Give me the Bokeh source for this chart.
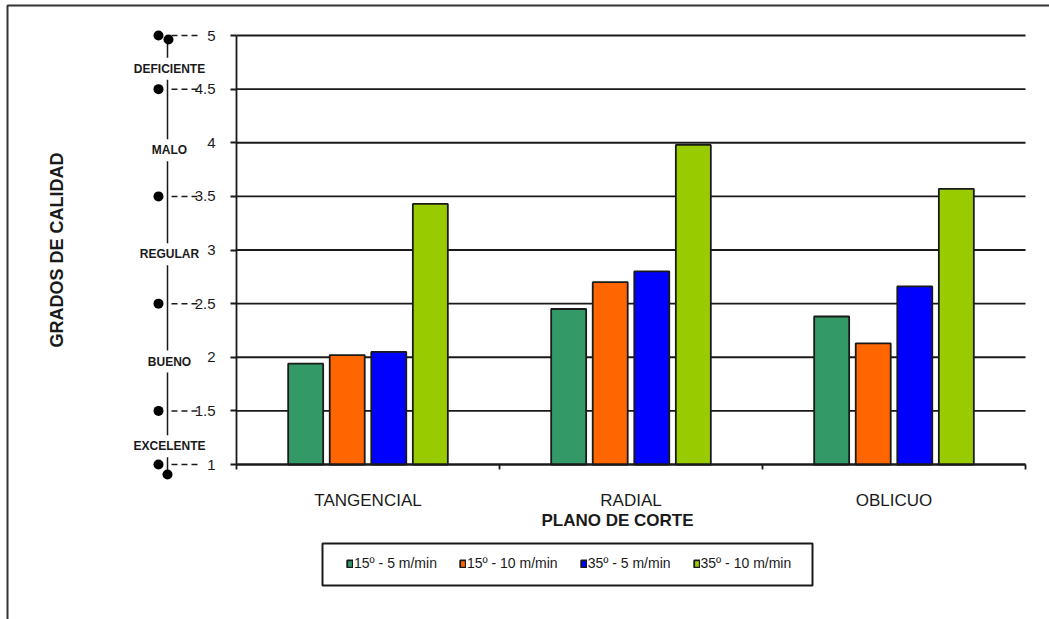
from math import pi

from bokeh.plotting import figure
from bokeh.models import (Range1d, FixedTicker, NumeralTickFormatter, Label,
                          BoxAnnotation, Legend, LegendItem, ColumnDataSource)
from bokeh.transform import dodge
from bokeh.embed import file_html
from bokeh.resources import INLINE

# --- data -------------------------------------------------------------------
cortes = ["TANGENCIAL", "RADIAL", "OBLICUO"]
series_names = ["15º - 5 m/min", "15º - 10 m/min", "35º - 5 m/min", "35º - 10 m/min"]
s15_5 = [1.94, 2.45, 2.38]
s15_10 = [2.02, 2.70, 2.13]
s35_5 = [2.05, 2.80, 2.66]
s35_10 = [3.43, 3.98, 3.57]
series_values = [s15_5, s15_10, s35_5, s35_10]
colors = ["#339966", "#FF6600", "#0000FF", "#99CC00"]

y_ticks = [1, 1.5, 2, 2.5, 3, 3.5, 4, 4.5, 5]
scale_marks = [5, 4.5, 3.5, 2.5, 1.5, 1]
quality_names = ["DEFICIENTE", "MALO", "REGULAR", "BUENO", "EXCELENTE"]
quality_pos = [4.69, 3.93, 2.96, 1.96, 1.17]

# --- geometry ---------------------------------------------------------------
# The frame fills the whole canvas; the bar area [0, NX] x [Y0, Y1] sits inside
# it, with the axes pinned to its edges.
W, H = 1049, 619
AREA_L, AREA_T, AREA_R, AREA_B = 236, 35, 1025, 464   # bar area on the canvas
Y0, Y1 = 1, 5
NX = len(cortes)
PX_X = (AREA_R - AREA_L) / NX       # pixels per x unit
PX_Y = (AREA_B - AREA_T) / (Y1 - Y0)  # pixels per y unit


def xpx(cx):
    """canvas pixel column -> x data coordinate"""
    return (cx - AREA_L) / PX_X


def ypx(cy):
    """canvas pixel row -> y data coordinate"""
    return Y1 - (cy - AREA_T) / PX_Y


FONT = "Liberation Sans"
INK = "#1a1a1a"
LW = 1.8

p = figure(width=W, height=H,
           x_range=Range1d(xpx(0), xpx(W)), y_range=Range1d(ypx(H), ypx(0)),
           output_backend="svg", toolbar_location=None,
           min_border_left=0, min_border_right=0, min_border_top=0, min_border_bottom=0)
p.outline_line_color = None
p.background_fill_color = "white"
p.border_fill_color = "white"
p.xgrid.grid_line_color = None
p.ygrid.grid_line_color = None

# --- horizontal grid lines across the bar area -----------------------------------
p.segment(x0=[0] * len(y_ticks), x1=[NX] * len(y_ticks), y0=y_ticks, y1=y_ticks,
          line_color=INK, line_width=LW)

# --- bars -------------------------------------------------------------------
centers = [i + 0.5 for i in range(NX)]
step, bar_w = 0.158, 0.133
offsets = [(j - 1.5) * step for j in range(len(series_values))]
legend_items = []
for vals, name, col, off in zip(series_values, series_names, colors, offsets):
    src = ColumnDataSource(dict(x=centers, top=vals, corte=cortes))
    r = p.vbar(x=dodge("x", off), top="top", bottom=Y0, width=bar_w, source=src,
               fill_color=col, line_color=INK, line_width=LW)
    legend_items.append(LegendItem(label=name, renderers=[r]))

# --- axes pinned to the bar area ------------------------------------------------
ya = p.yaxis[0]
ya.fixed_location = 0
ya.bounds = (Y0, Y1)
ya.ticker = FixedTicker(ticks=y_ticks)
ya.formatter = NumeralTickFormatter(format="0.[0]")
ya.major_label_text_font = FONT
ya.major_label_text_font_size = "15px"
ya.major_label_text_color = INK
ya.major_tick_out = 6
ya.major_tick_in = 0
ya.minor_tick_line_color = None
ya.major_label_standoff = 15
ya.axis_line_width = LW
ya.axis_line_color = INK
ya.major_tick_line_color = INK
ya.major_tick_line_width = LW

xa = p.xaxis[0]
xa.fixed_location = Y0
xa.bounds = (0, NX)
xa.ticker = FixedTicker(ticks=centers, minor_ticks=list(range(NX + 1)))
xa.major_label_overrides = {c: name for c, name in zip(centers, cortes)}
xa.major_label_text_font = FONT
xa.major_label_text_font_size = "17px"
xa.major_label_text_color = INK
xa.major_tick_line_color = None
xa.major_tick_out = 0
xa.major_tick_in = 0
xa.minor_tick_out = 5
xa.minor_tick_in = 0
xa.minor_tick_line_color = INK
xa.minor_tick_line_width = LW
xa.major_label_standoff = 21
xa.axis_line_width = LW
xa.axis_line_color = INK

# --- titles -----------------------------------------------------------------
p.add_layout(Label(x=xpx(56), y=(Y0 + Y1) / 2, text="GRADOS DE CALIDAD", angle=pi / 2,
                   text_align="center", text_baseline="middle", text_font=FONT,
                   text_font_size="18px", text_font_style="bold", text_color=INK))
p.add_layout(Label(x=xpx(617), y=ypx(520), text="PLANO DE CORTE",
                   text_align="center", text_baseline="middle", text_font=FONT,
                   text_font_size="17px", text_font_style="bold", text_color=INK))

# --- quality scale beside the y axis ------------------------------------------
scale_x = xpx(167)
p.segment(x0=[scale_x], x1=[scale_x], y0=[ypx(39)], y1=[ypx(474)],
          line_color=INK, line_width=1.5)
p.segment(x0=[xpx(171)] * len(scale_marks), x1=[xpx(197)] * len(scale_marks),
          y0=scale_marks, y1=scale_marks, line_color=INK, line_width=1.5,
          line_dash="6 4")
p.scatter(x=[xpx(158)] * len(scale_marks) + [xpx(168), xpx(167)],
          y=scale_marks + [ypx(39), ypx(474)],
          marker="circle", size=10, fill_color="black", line_color=None)

for name, yv in zip(quality_names, quality_pos):
    p.add_layout(Label(x=xpx(169), y=yv, text=name, text_align="center",
                       text_baseline="middle", text_font=FONT, text_font_size="12px",
                       text_font_style="bold", text_color=INK,
                       background_fill_color="white", padding=4))

# --- legend -----------------------------------------------------------------
p.add_layout(BoxAnnotation(left=xpx(322), right=xpx(812), top=ypx(543), bottom=ypx(585),
                           fill_color=None, line_color=INK, line_alpha=1, line_width=2))
legend = Legend(items=legend_items, orientation="horizontal",
                location=(346, H - 571), padding=0, margin=0,
                spacing=22, label_standoff=1, glyph_width=7, glyph_height=9,
                label_height=16, label_text_font=FONT, label_text_font_size="14px",
                label_text_color=INK, border_line_color=None, background_fill_alpha=0)
p.add_layout(legend, "center")

# --- outer frame --------------------------------------------------------------
p.add_layout(BoxAnnotation(left=xpx(7), right=xpx(W + 40), top=ypx(5), bottom=ypx(H + 40),
                           fill_color=None, line_color="#333333", line_alpha=1,
                           line_width=2))

open("out.html", "w").write(file_html(p, INLINE))
